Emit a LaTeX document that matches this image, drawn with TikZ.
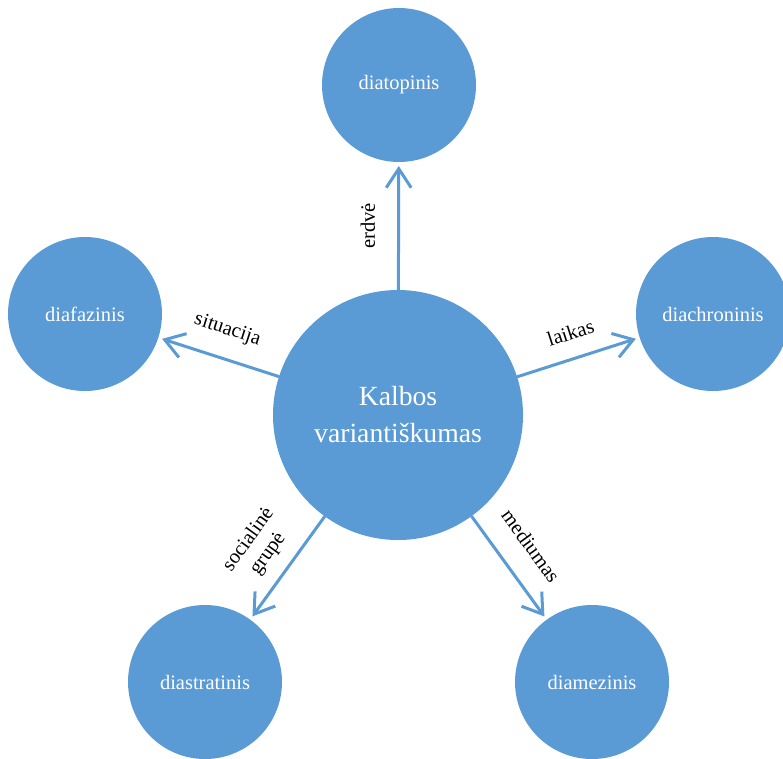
\documentclass[tikz,border=0pt]{standalone}
\usepackage{fontspec}
\setmainfont{Liberation Serif}
\usetikzlibrary{arrows.meta}

\definecolor{officeblue}{RGB}{91,155,213}

\tikzset{
  hub/.style={circle, fill=officeblue, text=white, minimum size=250pt,
    inner sep=0pt, outer sep=0pt, align=center,
    font=\fontsize{27.7}{37}\selectfont},
  satellite/.style={circle, fill=officeblue, text=white, minimum size=154pt,
    inner sep=0pt, outer sep=0pt, font=\fontsize{20.5}{23.6}\selectfont},
  arr/.style={-{Straight Barb[length=19pt,width=25pt]}, line width=3pt,
    draw=officeblue, shorten >=4pt},
  lbl/.style={sloped, inner sep=0pt, align=center,
    font=\fontsize{20.5}{24}\selectfont}
}

\begin{document}
\begin{tikzpicture}[x=1pt,y=-1pt]
        \useasboundingbox (0,0) rectangle (783,758);

        % Centras
        \node[hub] (kalba) at (398,415) {Kalbos\\variantiškumas};

        % Variantai aplink
        \node[satellite] (diatop) at (399,85) {diatopinis};
        \node[satellite] (diafaz) at (85,314) {diafazinis};
        \node[satellite] (diachron) at (713,314) {diachroninis};
        \node[satellite] (diastrat) at (205,682) {diastratinis};
        \node[satellite] (diamez) at (592,682) {diamezinis};

        % Rodyklės su paaiškinimais
        \draw[arr] (kalba) -- (diatop) node[lbl, midway, above=22pt] {erdvė};
        \draw[arr] (kalba) -- (diafaz) node[lbl, midway, above=18pt] {situacija};
        \draw[arr] (kalba) -- (diachron) node[lbl, midway, above=17pt] {laikas};
        \draw[arr] (kalba) -- (diastrat) node[lbl, pos=0.5, above=13pt] {socialinė\\grupė};
        \draw[arr] (kalba) -- (diamez) node[lbl, pos=0.46, above=22pt] {mediumas};
    \end{tikzpicture}
\end{document}
